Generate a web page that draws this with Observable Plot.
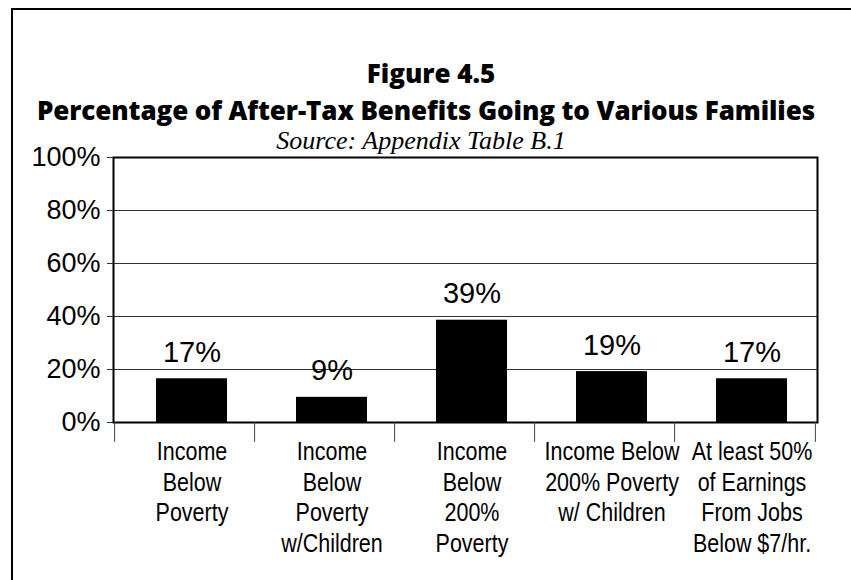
<!DOCTYPE html>
<html><head><meta charset="utf-8">
<script src="https://cdn.jsdelivr.net/npm/d3@7"></script>
<script src="https://cdn.jsdelivr.net/npm/@observablehq/plot@0.6"></script>
<style>
body{margin:0;background:#fff;}
#wrap{position:relative;width:851px;height:580px;overflow:hidden;background:#fff;}
#border{position:absolute;left:11px;top:8px;width:900px;height:700px;border-left:2px solid #000;border-top:2px solid #000;pointer-events:none;}
#head{position:relative;height:145px;}
.t{position:absolute;left:11px;width:840px;text-align:center;white-space:nowrap;color:#000;}
#t1{top:55px;font:800 26px "Open Sans", Lato, sans-serif;}
#t2{top:92px;font:800 26px "Open Sans", Lato, sans-serif;letter-spacing:-0.1px;left:6px;}
#t3{top:126px;font:italic 26px "Liberation Serif", "DejaVu Serif", serif;left:1px;}
#chart svg{display:block;}
</style></head>
<body>
<div id="wrap">
  <div id="head">
    <div class="t" id="t1">Figure 4.5</div>
    <div class="t" id="t2">Percentage of After-Tax Benefits Going to Various Families</div>
    <div class="t" id="t3">Source: Appendix Table B.1</div>
  </div>
  <div id="chart"></div>
  <div id="border"></div>
</div>
<script>
const categories = ["Income Below Poverty", "Income Below Poverty w/Children", "Income Below 200% Poverty", "Income Below 200% Poverty w/ Children", "At least 50% of Earnings From Jobs Below $7/hr."];
const categoryLabels = ["Income\nBelow\nPoverty", "Income\nBelow\nPoverty\nw/Children", "Income\nBelow\n200%\nPoverty", "Income Below\n200% Poverty\nw/ Children", "At least 50%\nof Earnings\nFrom Jobs\nBelow $7/hr."];
const values = [16.5, 9.5, 38.6, 19.2, 16.5];
const valueLabels = ["17%", "9%", "39%", "19%", "17%"];
const yTicks = [0, 20, 40, 60, 80, 100];

const data = categories.map((c, i) => ({c, v: values[i], lab: valueLabels[i], cat: categoryLabels[i]}));

const W = 851, H = 435, ML = 113, MR = 34, MT = 12, MB = 158;
const step = (W - ML - MR) / categories.length;
const shift = 7;

const chart = Plot.plot({
  width: W, height: H,
  marginTop: MT, marginBottom: MB, marginLeft: ML, marginRight: MR,
  x: {domain: categories, paddingInner: 0.49, paddingOuter: 0.245, axis: null},
  y: {domain: [0, 100], axis: null},
  style: {fontFamily: "'Liberation Sans', Arial, sans-serif", background: "white", color: "black", overflow: "visible"},
  marks: [
    Plot.ruleY(yTicks.filter(d => d > 0 && d < 100), {stroke: "#333", strokeWidth: 1.1}),
    Plot.barY(data, {x: "c", y: "v", fill: "black", dx: shift}),
    Plot.frame({stroke: "black", strokeWidth: 2}),
    Plot.axisY({ticks: yTicks, tickFormat: d => d + "%", tickSize: 6, tickPadding: 7, fontSize: 27, stroke: "#333", label: null}),
    Plot.ruleX(data, {x: "c", y1: 0, y2: -7.5, dx: -step / 2, stroke: "#444", strokeWidth: 1}),
    Plot.ruleX(data.slice(-1), {x: "c", y1: 0, y2: -7.5, dx: step / 2, stroke: "#444", strokeWidth: 1}),
    Plot.text(data, {x: "c", y: "v", text: "lab", lineAnchor: "bottom", dy: -17, dx: shift, fontSize: 29, fill: "black"}),
    Plot.text(data, {x: "c", y: 0, text: "cat", lineAnchor: "top", dy: 16, dx: shift, fontSize: 25, lineHeight: 1.22, fill: "black"})
  ]
});
// condense the category labels horizontally, like the narrow face of the reference
const groups = chart.querySelectorAll('g[aria-label="text"]');
const catGroup = groups[groups.length - 1];
catGroup.querySelectorAll("text").forEach(t => {
  const tr = t.getAttribute("transform") || "";
  t.setAttribute("transform", tr + " scale(0.86,1)");
});
document.getElementById("chart").appendChild(chart);
</script>
</body></html>
